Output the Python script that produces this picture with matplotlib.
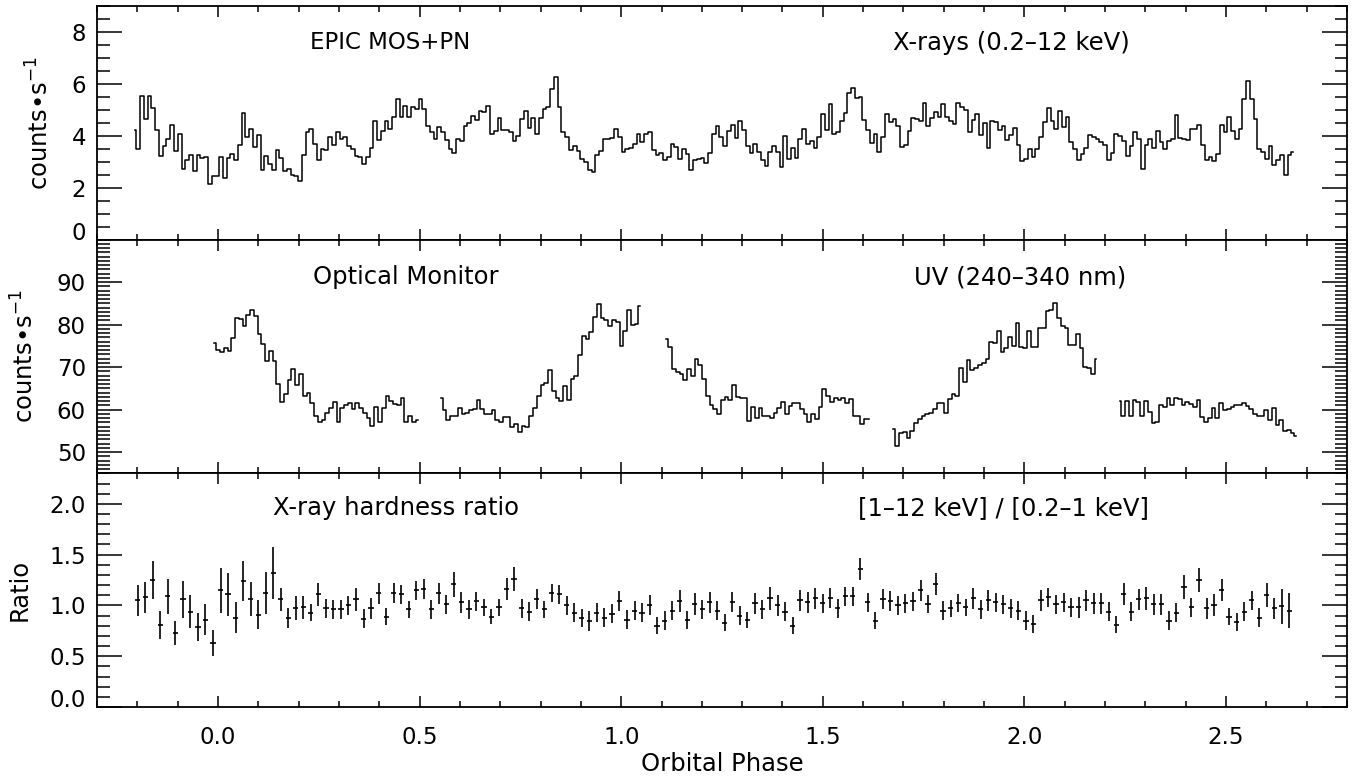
import numpy as np
import matplotlib
matplotlib.use("Agg")
import matplotlib.pyplot as plt
from matplotlib.ticker import FixedLocator, MultipleLocator, FormatStrFormatter

plt.rcParams["font.family"] = ["DejaVu Sans"]
plt.rcParams["mathtext.fontset"] = "dejavusans"

BIN = 0.00933  # phase width of one light-curve bin

# EPIC MOS+PN count rate, 0.2-12 keV
XRAY_START = -0.207
XRAY_RATE = [
    4.22, 3.51, 5.55, 4.65, 5.55, 5.06, 4.22, 3.23, 3.61, 3.87,
    4.41, 3.42, 4.06, 2.74, 3.06, 3.28, 2.63, 3.28, 3.15, 3.19,
    2.15, 2.44, 2.44, 3.19, 2.39, 3.16, 3.32, 3.08, 3.66, 4.89,
    3.96, 4.26, 3.57, 4.03, 2.67, 3.23, 2.93, 2.67, 3.45, 3.15,
    2.63, 2.74, 2.50, 2.45, 2.25, 3.28, 4.15, 4.28, 3.70, 3.08,
    3.48, 3.45, 3.94, 3.64, 4.13, 3.87, 3.94, 3.61, 3.51, 3.23,
    3.19, 2.90, 3.19, 3.55, 4.57, 3.83, 4.18, 4.57, 4.25, 4.71,
    5.41, 4.74, 5.15, 4.71, 5.12,
    5.03, 5.41, 5.02, 4.39, 4.15, 3.86, 4.35, 4.13, 3.83, 3.51,
    3.35, 3.87, 3.81, 4.37, 4.48, 4.76, 4.61, 4.95, 4.93, 5.16,
    4.09, 4.18, 4.70, 4.22, 4.22, 4.13, 3.81, 4.00, 4.63, 4.97,
    4.32, 4.70, 4.06, 4.68, 5.03, 5.12, 5.79, 6.26, 5.10, 4.15,
    3.96, 3.45, 3.60, 3.42, 3.10, 2.99, 2.67, 2.61, 3.25, 3.41,
    3.86, 3.87, 3.92, 4.28, 3.94, 3.38, 3.51, 3.55, 3.70, 4.06,
    3.77, 4.06, 4.13, 3.45, 3.25, 3.34, 3.08, 3.19, 3.68, 3.57,
    3.12, 3.48, 3.30, 2.67, 3.08, 3.10, 3.16, 2.95, 3.35, 4.09,
    4.39, 3.94,
    3.61, 4.18, 4.41, 3.90, 4.57, 4.22, 3.60, 3.34, 3.68, 3.38,
    3.08, 2.84, 3.38, 3.60, 3.38, 2.80, 4.00, 3.12, 3.55, 3.15,
    3.87, 4.25, 3.70, 3.79, 3.55, 3.94, 4.86, 4.22, 5.21, 4.09,
    4.15, 4.57, 4.89, 5.66, 5.83, 5.45, 5.51, 4.61, 4.22, 3.74,
    4.09, 3.38, 3.96, 4.86, 4.52, 4.65, 4.37, 3.57, 3.66, 4.18,
    4.68, 4.65, 4.57, 5.25, 4.39, 4.68, 4.91, 4.71, 5.21, 4.74,
    4.57, 4.45, 5.25, 5.10, 4.99, 4.13, 4.61, 4.83, 4.03, 4.48,
    3.54, 4.57, 4.52, 4.22, 4.37, 3.83, 4.03, 4.31, 3.64, 3.03,
    3.12, 3.51,
    3.19, 3.51, 3.96, 4.52, 5.06, 4.58, 4.26, 4.97, 4.35, 4.71,
    3.77, 3.51, 3.06, 3.32, 3.55, 4.03, 3.96, 3.87, 3.77, 3.64,
    3.08, 3.35, 4.06, 3.98, 3.79, 3.23, 3.60, 4.15, 3.87, 2.74,
    3.64, 3.86, 3.54, 4.19, 3.77, 3.48, 3.81, 3.87, 4.80, 3.90,
    3.87, 3.83, 4.28, 4.28, 4.41, 3.66, 3.08, 3.19, 3.03, 3.30,
    4.43, 4.15, 4.71, 4.19, 3.87, 4.28, 5.42, 6.12, 5.41, 4.65,
    3.51, 3.38, 3.10, 3.61, 2.89, 3.06, 3.25, 2.48, 3.25, 3.38,
]

# Optical Monitor UV count rate, one list per exposure
OM_STARTS = [-0.009, 0.5527, 1.112, 1.675, 2.236]
OM_RATE = [
    [75.8, 74.0, 73.6, 74.6, 73.8, 76.9, 81.6, 81.4, 79.6, 82.3,
     83.5, 82.0, 77.7, 75.4, 71.4, 73.8, 71.5, 66.0, 61.9, 63.7,
     67.0, 69.5, 65.8, 68.4, 63.2, 63.8, 61.6, 58.6, 57.0, 57.6,
     59.3, 60.5, 61.9, 57.0, 60.5, 61.1, 61.5, 60.1, 61.5, 60.3,
     59.3, 58.0, 56.2, 60.7, 57.2, 60.5, 63.2, 62.0, 61.3, 61.1,
     62.8, 57.0, 58.4, 57.2, 57.6],
    [62.7, 59.9, 57.6, 58.6, 58.4, 60.5, 58.9, 59.1, 59.9, 60.1,
     62.3, 60.1, 58.9, 59.0, 59.9, 57.6, 57.0, 58.2, 58.2, 56.0,
     56.6, 54.7, 56.2, 56.0, 58.6, 60.3, 63.2, 65.8, 66.3, 69.3,
     64.5, 62.7, 62.0, 65.6, 62.3, 67.3, 67.9, 72.8, 77.3, 76.7,
     78.3, 81.8, 84.9, 81.6, 81.2, 79.8, 81.0, 80.6, 75.0, 78.4,
     83.5, 80.0, 80.2, 84.3],
    [76.7, 74.8, 69.5, 68.9, 68.5, 67.0, 69.5, 67.9, 72.0, 70.5,
     67.1, 63.2, 61.1, 60.1, 59.0, 62.3, 63.0, 62.3, 65.8, 62.9,
     62.8, 62.7, 57.3, 60.7, 58.1, 60.3, 58.4, 58.4, 58.0, 59.3,
     60.5, 61.9, 59.0, 60.9, 61.6, 61.5, 60.1, 59.0, 57.2, 59.0,
     57.7, 60.7, 64.8, 63.2, 61.9, 62.7, 62.3, 62.7, 61.5, 62.4,
     58.6, 58.4, 56.6, 57.7, 57.7],
    [55.4, 51.5, 54.5, 54.8, 53.3, 55.0, 56.8, 57.8, 58.4, 59.0,
     59.3, 60.1, 61.5, 61.6, 59.3, 62.5, 63.7, 63.2, 69.7, 66.4,
     71.6, 69.3, 69.7, 70.5, 70.9, 71.8, 75.9, 75.7, 78.5, 73.6,
     74.4, 77.1, 74.9, 80.4, 74.8, 74.6, 78.4, 74.8, 74.8, 79.3,
     79.3, 83.2, 83.4, 85.1, 81.6, 79.8, 79.2, 75.2, 75.2, 77.7,
     74.6, 70.1, 69.9, 68.5, 71.9],
    [62.0, 58.4, 62.0, 58.6, 62.3, 61.8, 58.6, 62.0, 59.4, 56.9,
     57.2, 61.0, 60.6, 62.7, 61.0, 62.7, 62.6, 61.2, 61.8, 61.3,
     60.6, 62.2, 58.2, 57.0, 58.0, 60.5, 58.0, 61.5, 60.0, 60.1,
     60.6, 61.2, 61.0, 61.6, 60.8, 60.2, 59.0, 58.6, 58.6, 60.0,
     57.5, 60.3, 56.4, 57.6, 55.0, 55.2, 54.6, 53.8],
]

# hardness ratio [1-12 keV] / [0.2-1 keV]
HR_START = -0.199
HR_STEP = 0.018667
HR_XERR = 0.0065
HR_VALUE = [
    1.05, 1.08, 1.25, 0.81, 1.09, 0.73, 1.06, 0.94, 0.79, 0.86,
    0.63, 1.15, 1.11, 0.88, 1.24, 1.06, 0.91, 1.12, 1.32, 1.06,
    0.88, 0.97, 0.98, 0.93, 1.11, 0.97, 0.96, 0.96, 1.00, 1.06,
    0.87, 0.97, 1.12, 0.89, 1.12, 1.11, 0.96, 1.15, 1.16, 0.96,
    1.12, 1.01, 1.21, 1.03, 0.96, 1.04, 0.98, 0.89, 0.98, 1.16,
    1.26, 0.97, 0.94, 1.06, 0.96, 1.12, 1.11, 1.00, 0.93, 0.88,
    0.85, 0.93, 0.88, 0.92, 1.04, 0.86, 0.95, 0.93, 1.00, 0.80,
    0.85, 0.95, 1.04, 0.86, 1.01, 0.96, 1.03, 0.95, 0.83, 1.03,
    0.90, 0.86, 1.02, 0.96, 1.07, 1.00, 0.94, 0.80, 1.05, 1.03,
    1.07, 1.02, 1.07, 0.97, 1.09, 1.09, 1.36, 1.03, 0.85, 1.06,
    1.04, 1.00, 1.02, 1.04, 1.15, 1.01, 1.21, 0.95, 0.97, 1.02,
    0.98, 1.07, 0.96, 1.05, 1.03, 1.01, 0.97, 0.95, 0.85, 0.82,
    1.05, 1.08, 1.01, 1.03, 0.98, 0.98, 1.05, 1.02, 1.02, 0.94,
    0.81, 1.11, 0.94, 1.06, 1.07, 1.01, 1.01, 0.85, 0.93, 1.18,
    0.98, 1.25, 0.97, 1.00, 1.15, 0.89, 0.84, 0.94, 1.05, 0.88,
    1.10, 0.97, 0.99, 0.95,
]
HR_ERROR = [
    0.154, 0.151, 0.185, 0.139, 0.170, 0.118, 0.180, 0.166, 0.136, 0.152,
    0.128, 0.220, 0.211, 0.151, 0.193, 0.166, 0.144, 0.208, 0.256, 0.111,
    0.098, 0.118, 0.113, 0.084, 0.111, 0.097, 0.090, 0.090, 0.097, 0.110,
    0.093, 0.102, 0.105, 0.080, 0.098, 0.093, 0.082, 0.095, 0.097, 0.090,
    0.103, 0.092, 0.123, 0.100, 0.093, 0.090, 0.082, 0.074, 0.084, 0.107,
    0.115, 0.089, 0.090, 0.098, 0.085, 0.090, 0.092, 0.095, 0.090, 0.089,
    0.098, 0.098, 0.090, 0.090, 0.098, 0.092, 0.092, 0.090, 0.098, 0.085,
    0.093, 0.098, 0.107, 0.090, 0.108, 0.098, 0.100, 0.092, 0.082, 0.098,
    0.093, 0.079, 0.105, 0.098, 0.115, 0.102, 0.097, 0.082, 0.105, 0.102,
    0.105, 0.097, 0.098, 0.097, 0.095, 0.093, 0.111, 0.093, 0.082, 0.098,
    0.098, 0.090, 0.095, 0.093, 0.102, 0.089, 0.105, 0.090, 0.085, 0.089,
    0.085, 0.102, 0.095, 0.102, 0.093, 0.095, 0.090, 0.090, 0.092, 0.087,
    0.105, 0.095, 0.095, 0.093, 0.095, 0.105, 0.105, 0.105, 0.103, 0.098,
    0.082, 0.107, 0.098, 0.103, 0.111, 0.103, 0.103, 0.092, 0.090, 0.118,
    0.095, 0.115, 0.103, 0.108, 0.110, 0.082, 0.089, 0.093, 0.093, 0.093,
    0.120, 0.103, 0.172, 0.175,
]

# y tick values per panel
XRAY_TICKS = [0, 2, 4, 6, 8]
OM_TICKS = [50, 60, 70, 80, 90]
HR_TICKS = [0.0, 0.5, 1.0, 1.5, 2.0]

LW = 1.1
FS = 16.5      # tick labels
FS_TEXT = 17.5  # axis titles and panel captions


def style_axis(ax, ylim, ticks, minor, fmt):
    ax.set_xlim(-0.3, 2.8)
    ax.set_ylim(*ylim)
    ax.xaxis.set_major_locator(MultipleLocator(0.5))
    ax.xaxis.set_minor_locator(MultipleLocator(0.1))
    ax.yaxis.set_major_locator(FixedLocator(ticks))
    ax.yaxis.set_minor_locator(MultipleLocator(minor))
    ax.yaxis.set_major_formatter(FormatStrFormatter(fmt))
    ax.xaxis.set_major_formatter(FormatStrFormatter("%.1f"))
    ax.tick_params(which="both", direction="in", top=True, right=True,
                   width=1.1, color="black", labelsize=FS)
    ax.tick_params(axis="y", which="major", length=18, pad=8)
    ax.tick_params(axis="y", which="minor", length=9)
    ax.tick_params(axis="x", which="major", length=8, pad=14)
    ax.tick_params(axis="x", which="minor", length=4)
    for sp in ax.spines.values():
        sp.set_linewidth(1.3)


def lift_bottom_label(ax):
    # keep the lowest y label clear of the panel below
    ticks = ax.yaxis.get_major_ticks()
    ticks[0].label1.set_verticalalignment("baseline")


fig, axes = plt.subplots(3, 1, sharex=True, figsize=(13.57, 7.84), dpi=100)
fig.subplots_adjust(left=0.0715, right=0.9926, top=0.9923, bottom=0.0982, hspace=0)
ax_x, ax_om, ax_hr = axes

# X-ray light curve
x_phase = XRAY_START + BIN * np.arange(len(XRAY_RATE))
ax_x.plot(x_phase, XRAY_RATE, drawstyle="steps-mid", color="black", lw=LW)
style_axis(ax_x, (0, 9), XRAY_TICKS, 0.5, "%d")
lift_bottom_label(ax_x)
ax_x.set_ylabel("counts\u2022s$^{-1}$", fontsize=FS_TEXT, labelpad=13)
ax_x.text(0.170, 0.842, "EPIC MOS+PN", transform=ax_x.transAxes,
          fontsize=FS, va="center")
ax_x.text(0.637, 0.842, "X-rays (0.2\u201312 keV)", transform=ax_x.transAxes,
          fontsize=FS_TEXT, va="center")

# Optical Monitor light curve, each exposure drawn separately
for start, rate in zip(OM_STARTS, OM_RATE):
    om_phase = start + BIN * np.arange(len(rate))
    ax_om.plot(om_phase, rate, drawstyle="steps-mid", color="black", lw=LW)
style_axis(ax_om, (45, 100), OM_TICKS, 1, "%d")
ax_om.set_ylabel("counts\u2022s$^{-1}$", fontsize=FS_TEXT, labelpad=13)
ax_om.text(0.173, 0.84, "Optical Monitor", transform=ax_om.transAxes,
           fontsize=FS_TEXT, va="center")
ax_om.text(0.654, 0.84, "UV (240\u2013340 nm)", transform=ax_om.transAxes,
           fontsize=FS_TEXT, va="center")

# hardness ratio
hr_phase = HR_START + HR_STEP * np.arange(len(HR_VALUE))
ax_hr.errorbar(hr_phase, HR_VALUE, yerr=HR_ERROR, xerr=HR_XERR, fmt="none",
               ecolor="black", elinewidth=1.2, capsize=0)
style_axis(ax_hr, (0, 2.3), HR_TICKS, 0.1, "%.1f")
lift_bottom_label(ax_hr)
ax_hr.set_ylabel("Ratio", fontsize=FS_TEXT, labelpad=13)
ax_hr.set_xlabel("Orbital Phase", fontsize=FS_TEXT)
ax_hr.xaxis.label.set_verticalalignment("center")
ax_hr.xaxis.set_label_coords(0.5, -0.243)
ax_hr.text(0.141, 0.851, "X-ray hardness ratio", transform=ax_hr.transAxes,
           fontsize=FS_TEXT, va="center")
ax_hr.text(0.609, 0.851, "[1\u201312 keV] / [0.2\u20131 keV]", transform=ax_hr.transAxes,
           fontsize=FS_TEXT, va="center")

fig.savefig("out.png", dpi=100)
